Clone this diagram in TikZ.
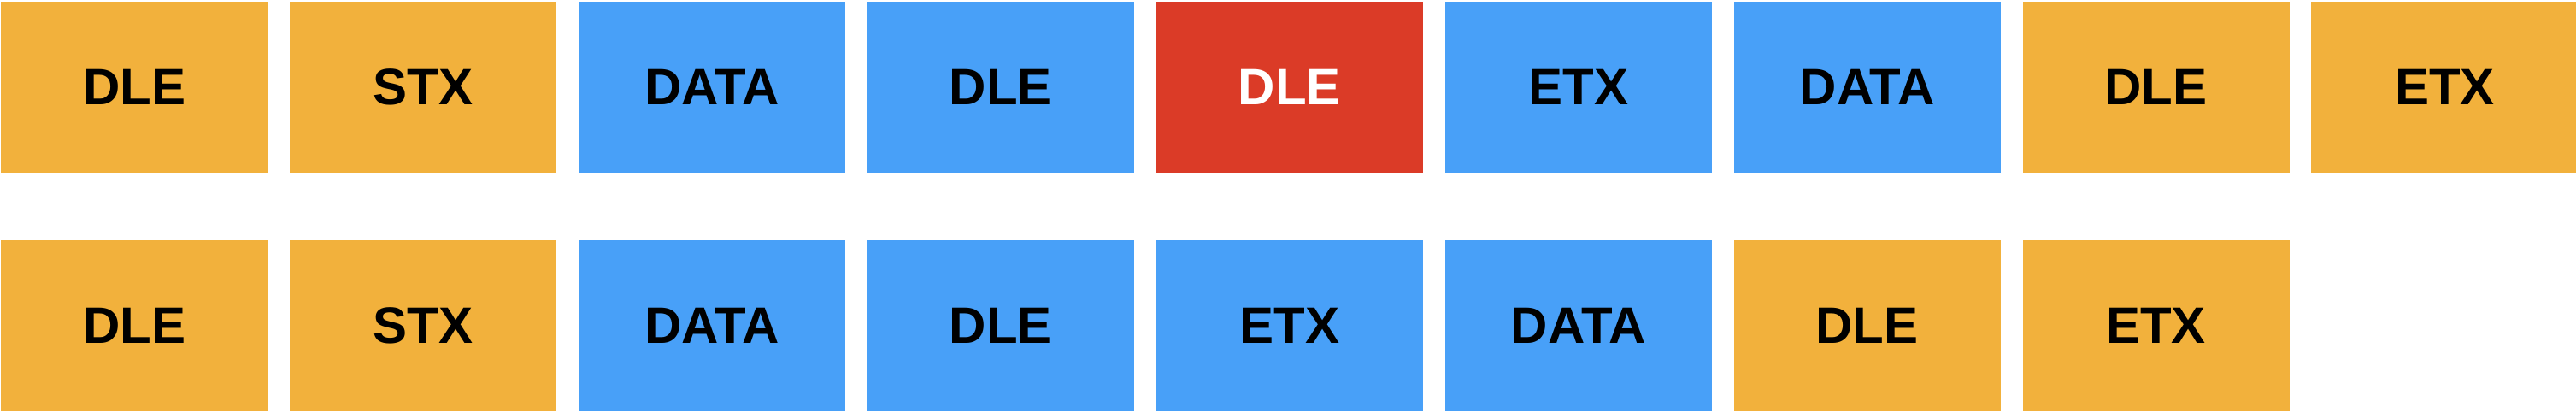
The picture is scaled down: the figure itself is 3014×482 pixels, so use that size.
\documentclass[tikz,border=0pt]{standalone}
\usepackage{fontspec}
\setsansfont{Liberation Sans}
\usepackage{tikz}
\usepackage{xcolor}
\usetikzlibrary{positioning}
\definecolor{byteorange}{HTML}{F2B13C}
\definecolor{byteblue}{HTML}{48A0F8}
\definecolor{bytered}{HTML}{DB3B27}
\tikzset{
    byte-box/.style = {rectangle, inner sep=0pt, minimum width=312pt, minimum height=200pt, font=\sffamily\bfseries\fontsize{60}{60}\selectfont, text=black},
    ctrl-box/.style = {byte-box, fill=byteorange},
    data-box/.style = {byte-box, fill=byteblue},
    stuffed-box/.style = {byte-box, fill=bytered, text=white},
    node distance=25.5pt,
}

\begin{document}
\begin{tikzpicture}
\useasboundingbox (0,0) rectangle (3014pt,482pt);
% escaped frame
\node[ctrl-box, anchor=north west] (dle1) at (1pt,480pt) {DLE};
\node[ctrl-box, right=of dle1] (stx1) {STX};
\node[data-box, right=of stx1] (data1) {DATA};
\node[data-box, right=of data1] (dle2) {DLE};
\node[stuffed-box, right=of dle2] (dle3) {DLE};
\node[data-box, right=of dle3] (etx1) {ETX};
\node[data-box, right=of etx1] (data2) {DATA};
\node[ctrl-box, right=of data2] (dle4) {DLE};
\node[ctrl-box, right=of dle4] (etx2) {ETX};
% decoded frame
\node[ctrl-box, below=78pt of dle1] (rdle1) {DLE};
\node[ctrl-box, right=of rdle1] (rstx1) {STX};
\node[data-box, right=of rstx1] (rdata1) {DATA};
\node[data-box, right=of rdata1] (rdle2) {DLE};
\node[data-box, right=of rdle2] (retx1) {ETX};
\node[data-box, right=of retx1] (rdata2) {DATA};
\node[ctrl-box, right=of rdata2] (rdle3) {DLE};
\node[ctrl-box, right=of rdle3] (retx2) {ETX};
\end{tikzpicture}
\end{document}
